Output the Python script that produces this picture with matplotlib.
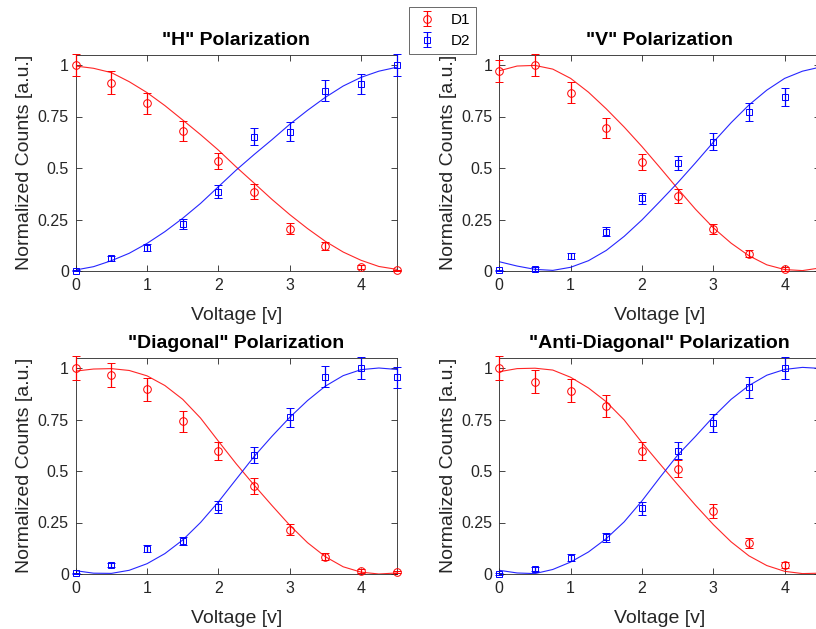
import matplotlib
matplotlib.use("Agg")
import matplotlib.pyplot as plt

plt.rcParams['font.family'] = ['Liberation Sans', 'DejaVu Sans']

# ---------------- data ----------------
volts = [0, 0.5, 1, 1.5, 2, 2.5, 3, 3.5, 4, 4.5]
volts_fit = [0, 0.25, 0.5, 0.75, 1, 1.25, 1.5, 1.75, 2, 2.25, 2.5,
             2.75, 3, 3.25, 3.5, 3.75, 4, 4.25, 4.5]

titles = ['"H" Polarization', '"V" Polarization',
          '"Diagonal" Polarization', '"Anti-Diagonal" Polarization']
series_labels = ['D1', 'D2']
x_ticks = [0, 1, 2, 3, 4]
x_tick_labels = ['0', '1', '2', '3', '4']
y_ticks = [0, 0.25, 0.5, 0.75, 1]
y_tick_labels = ['0', '0.25', '0.5', '0.75', '1']

# "H"
h_d1 = [1.0, 0.915, 0.814, 0.681, 0.535, 0.385, 0.206, 0.121, 0.021, 0.004]
h_d1_err = [0.053, 0.054, 0.051, 0.049, 0.040, 0.036, 0.025, 0.020, 0.010, 0.003]
h_d2 = [0.002, 0.062, 0.113, 0.230, 0.385, 0.652, 0.676, 0.875, 0.909, 1.0]
h_d2_err = [0.003, 0.013, 0.018, 0.024, 0.032, 0.041, 0.045, 0.050, 0.049, 0.052]
h_d1_fit = [0.995, 0.984, 0.963, 0.919, 0.866, 0.803, 0.733, 0.662, 0.587, 0.505,
            0.427, 0.348, 0.274, 0.206, 0.144, 0.092, 0.052, 0.022, 0.008]
h_d2_fit = [0.005, 0.021, 0.050, 0.086, 0.134, 0.191, 0.256, 0.328, 0.409, 0.490,
            0.565, 0.637, 0.712, 0.780, 0.843, 0.898, 0.940, 0.970, 0.989]

# "V"
v_d1 = [0.971, 1.0, 0.866, 0.694, 0.530, 0.366, 0.204, 0.084, 0.011]
v_d1_err = [0.054, 0.054, 0.051, 0.047, 0.040, 0.034, 0.024, 0.017, 0.010]
v_d2 = [0.004, 0.010, 0.073, 0.191, 0.353, 0.523, 0.628, 0.772, 0.845]
v_d2_err = [0.003, 0.011, 0.015, 0.023, 0.028, 0.035, 0.040, 0.043, 0.045]
v_d1_fit = [0.972, 0.995, 0.998, 0.980, 0.935, 0.868, 0.787, 0.699, 0.604, 0.503,
            0.400, 0.300, 0.210, 0.135, 0.074, 0.030, 0.007, 0.002, 0.015]
v_d2_fit = [0.045, 0.024, 0.008, 0.003, 0.018, 0.050, 0.100, 0.168, 0.248, 0.337,
            0.428, 0.525, 0.625, 0.720, 0.806, 0.878, 0.935, 0.970, 0.990]

# "Diagonal"
d_d1 = [1.0, 0.966, 0.896, 0.742, 0.598, 0.426, 0.216, 0.083, 0.015, 0.010]
d_d1_err = [0.056, 0.056, 0.055, 0.051, 0.045, 0.039, 0.025, 0.017, 0.008, 0.005]
d_d2 = [0.003, 0.042, 0.123, 0.159, 0.323, 0.577, 0.760, 0.958, 1.0, 0.955]
d_d2_err = [0.003, 0.009, 0.018, 0.019, 0.029, 0.039, 0.045, 0.050, 0.053, 0.050]
d_d1_fit = [0.985, 0.995, 0.997, 0.988, 0.962, 0.915, 0.848, 0.757, 0.645, 0.535,
            0.432, 0.333, 0.237, 0.152, 0.084, 0.035, 0.009, 0.000, 0.005]
d_d2_fit = [0.016, 0.004, 0.003, 0.018, 0.050, 0.099, 0.165, 0.250, 0.350, 0.460,
            0.570, 0.668, 0.760, 0.842, 0.912, 0.963, 0.992, 1.000, 0.993]

# "Anti-Diagonal"
a_d1 = [1.0, 0.934, 0.890, 0.817, 0.596, 0.512, 0.308, 0.151, 0.044]
a_d1_err = [0.056, 0.056, 0.056, 0.053, 0.045, 0.043, 0.034, 0.023, 0.014]
a_d2 = [0.0, 0.023, 0.078, 0.178, 0.318, 0.598, 0.731, 0.906, 1.0]
a_d2_err = [0.003, 0.009, 0.017, 0.022, 0.031, 0.041, 0.044, 0.050, 0.053]
a_d1_fit = [0.982, 0.997, 0.999, 0.990, 0.955, 0.903, 0.836, 0.748, 0.638, 0.535,
            0.434, 0.334, 0.240, 0.156, 0.088, 0.041, 0.013, 0.002, 0.004]
a_d2_fit = [0.018, 0.005, 0.002, 0.022, 0.058, 0.107, 0.172, 0.253, 0.355, 0.468,
            0.577, 0.668, 0.763, 0.848, 0.915, 0.965, 0.993, 1.003, 0.998]

panels = [
    (h_d1, h_d1_err, h_d2, h_d2_err, h_d1_fit, h_d2_fit),
    (v_d1, v_d1_err, v_d2, v_d2_err, v_d1_fit, v_d2_fit),
    (d_d1, d_d1_err, d_d2, d_d2_err, d_d1_fit, d_d2_fit),
    (a_d1, a_d1_err, a_d2, a_d2_err, a_d1_fit, a_d2_fit),
]

# ---------------- layout ----------------
W, H = 816, 629
fig = plt.figure(figsize=(W / 100, H / 100), dpi=100)

ax_w = 321 / W
ax_h = 216.3 / H
lefts = [75.7 / W, 499.3 / W]
bottoms = [(H - 271) / H, (H - 574) / H]
positions = [(lefts[0], bottoms[0]), (lefts[1], bottoms[0]),
             (lefts[0], bottoms[1]), (lefts[1], bottoms[1])]

dark = '#262626'
red = '#ff0000'
blue = '#0000ff'
handles = None
for i, (ax_pos, data, title) in enumerate(zip(positions, panels, titles)):
    d1, d1e, d2, d2e, f1, f2 = data
    ax = fig.add_axes([ax_pos[0], ax_pos[1], ax_w, ax_h])
    ax.plot(volts_fit, f1, color=red, lw=0.8, alpha=0.85, zorder=2)
    ax.plot(volts_fit, f2, color=blue, lw=0.8, alpha=0.85, zorder=2)
    e1 = ax.errorbar(volts[:len(d1)], d1, yerr=d1e, fmt='o', color=red,
                     mfc='none', mec=red, ms=5.5, mew=0.7, elinewidth=0.9,
                     capsize=2.6, capthick=0.9, zorder=3, clip_on=False,
                     label=series_labels[0])
    e2 = ax.errorbar(volts[:len(d2)], d2, yerr=d2e, fmt='s', color=blue,
                     mfc='none', mec=blue, ms=4.0, mew=0.7, elinewidth=0.9,
                     capsize=2.6, capthick=0.9, zorder=3, clip_on=False,
                     label=series_labels[1])
    if handles is None:
        handles = [e1, e2]
    ax.set_xlim(0, 4.5)
    ax.set_ylim(0, 1.05)
    ax.set_xticks(x_ticks)
    ax.set_xticklabels(x_tick_labels)
    ax.set_yticks(y_ticks)
    ax.set_yticklabels(y_tick_labels)
    ax.tick_params(direction='in', top=True, right=True, length=4, width=0.6,
                   colors=dark, labelsize=11.5, pad=5)
    for sp in ax.spines.values():
        sp.set_color(dark)
        sp.set_linewidth(0.6)
    ax.set_xlabel('Voltage [v]', fontsize=14, color=dark, labelpad=10)
    ax.set_ylabel('Normalized Counts [a.u.]', fontsize=14, color=dark, labelpad=3)
    ax.set_title(title, fontsize=14, fontweight='bold', color='black', pad=7)

leg = fig.legend(handles, series_labels, loc='upper left',
                 bbox_to_anchor=(409 / W, 1 - 7 / H), borderaxespad=0,
                 fontsize=11, frameon=True, fancybox=False, handlelength=1.5,
                 handletextpad=0.8, borderpad=0.4, labelspacing=0.45)
leg.get_frame().set_edgecolor('#262626')
leg.get_frame().set_linewidth(0.6)

fig.savefig('out.png', dpi=100)
